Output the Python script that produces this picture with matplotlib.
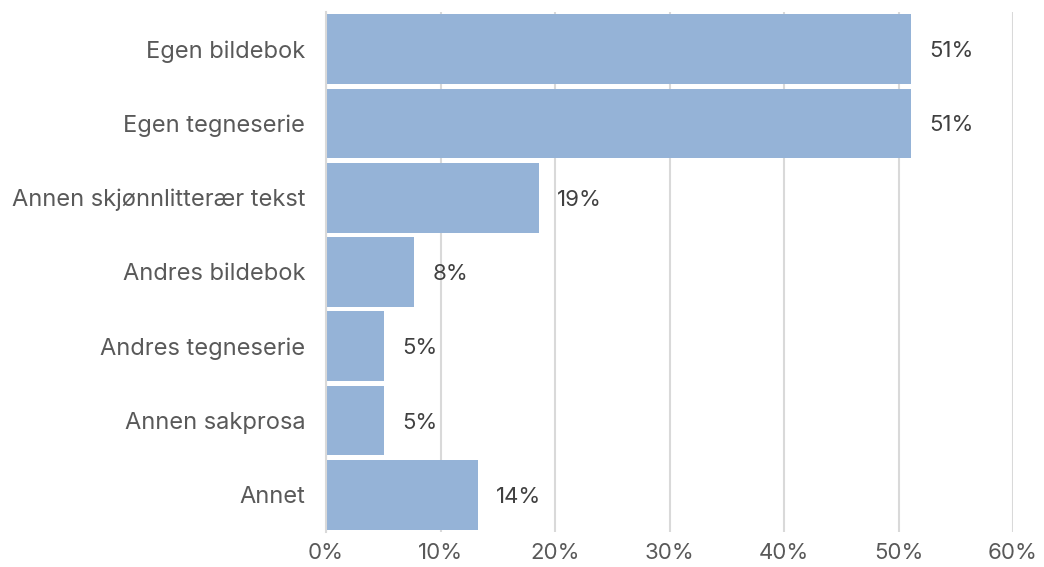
import matplotlib
matplotlib.use("Agg")
import matplotlib.pyplot as plt
from matplotlib.ticker import FuncFormatter

categories = ["Egen bildebok", "Egen tegneserie", "Annen skjønnlitterær tekst",
              "Andres bildebok", "Andres tegneserie", "Annen sakprosa", "Annet"]
values = [51.1, 51.1, 18.6, 7.7, 5.1, 5.1, 13.3]
value_labels = ["51%", "51%", "19%", "8%", "5%", "5%", "14%"]
xticks = [0, 10, 20, 30, 40, 50, 60]

plt.rcParams['font.family'] = ['Inter', 'DejaVu Sans']

fig = plt.figure(figsize=(10.44, 5.67), dpi=100)
ax = fig.add_axes([326/1044, 1 - 532/567, (1013 - 326)/1044, (532 - 12)/567])

ypos = list(range(len(categories)))
ax.barh(ypos, values, height=0.94, color="#95b3d7", zorder=2)

for y, v, lab in zip(ypos, values, value_labels):
    ax.annotate(lab, xy=(v, y), xytext=(18, -2), textcoords="offset pixels",
                ha="left", va="center", fontsize=16, color="#404040", zorder=3)

ax.set_xlim(0, 60)
ax.set_ylim(len(categories) - 0.5, -0.5)
ax.set_xticks(xticks)
ax.xaxis.set_major_formatter(FuncFormatter(lambda x, p: f"{x:.0f}%"))
ax.set_yticks(ypos)
ax.set_yticklabels(categories, fontsize=17)

ax.grid(axis="x", color="#d9d9d9", linewidth=1.5, zorder=0)
ax.set_axisbelow(True)
for s in ["top", "right", "bottom"]:
    ax.spines[s].set_visible(False)
ax.spines["left"].set_color("#d9d9d9")
ax.spines["left"].set_linewidth(1.5)

ax.tick_params(axis="both", length=0, colors="#595959")
ax.tick_params(axis="x", labelsize=16, pad=8)
ax.tick_params(axis="y", pad=15)

fig.savefig("out.png", dpi=100)
